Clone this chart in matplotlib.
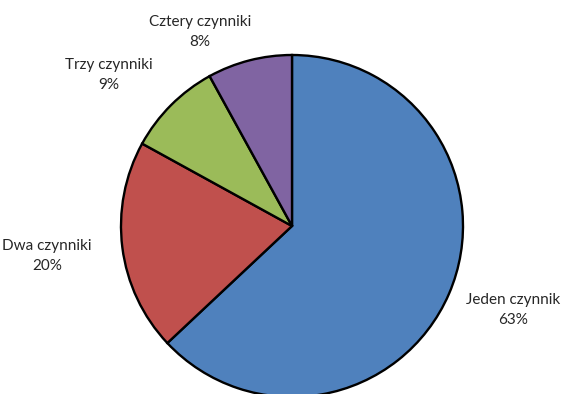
import matplotlib
matplotlib.use("Agg")
import matplotlib.pyplot as plt

# Liczba czynników
labels = ["Jeden czynnik", "Dwa czynniki", "Trzy czynniki", "Cztery czynniki"]
shares = [63, 20, 9, 8]
colors = ["#4F81BD", "#C0504D", "#9BBB59", "#8064A2"]

# label anchor points (figure pixels, y from top)
label_pos = [(513, 310), (47, 256), (109, 75), (200, 32)]

fig = plt.figure(figsize=(5.72, 3.94), dpi=100)
ax = fig.add_axes([0, 0, 1, 1])

ax.pie(shares, colors=colors, startangle=90, counterclock=False,
       center=(292, 394 - 226), radius=171, frame=True,
       wedgeprops=dict(edgecolor="black", linewidth=1.7))
ax.set_xlim(0, 572)
ax.set_ylim(0, 394)
ax.set_aspect("equal")
ax.axis("off")

for lab, val, (x, y) in zip(labels, shares, label_pos):
    ax.text(x, 394 - y, f"{lab}\n{val}%", ha="center", va="center",
            fontsize=11, family="Lato", color="#262626", linespacing=1.55)

fig.savefig("out.png", dpi=100)
